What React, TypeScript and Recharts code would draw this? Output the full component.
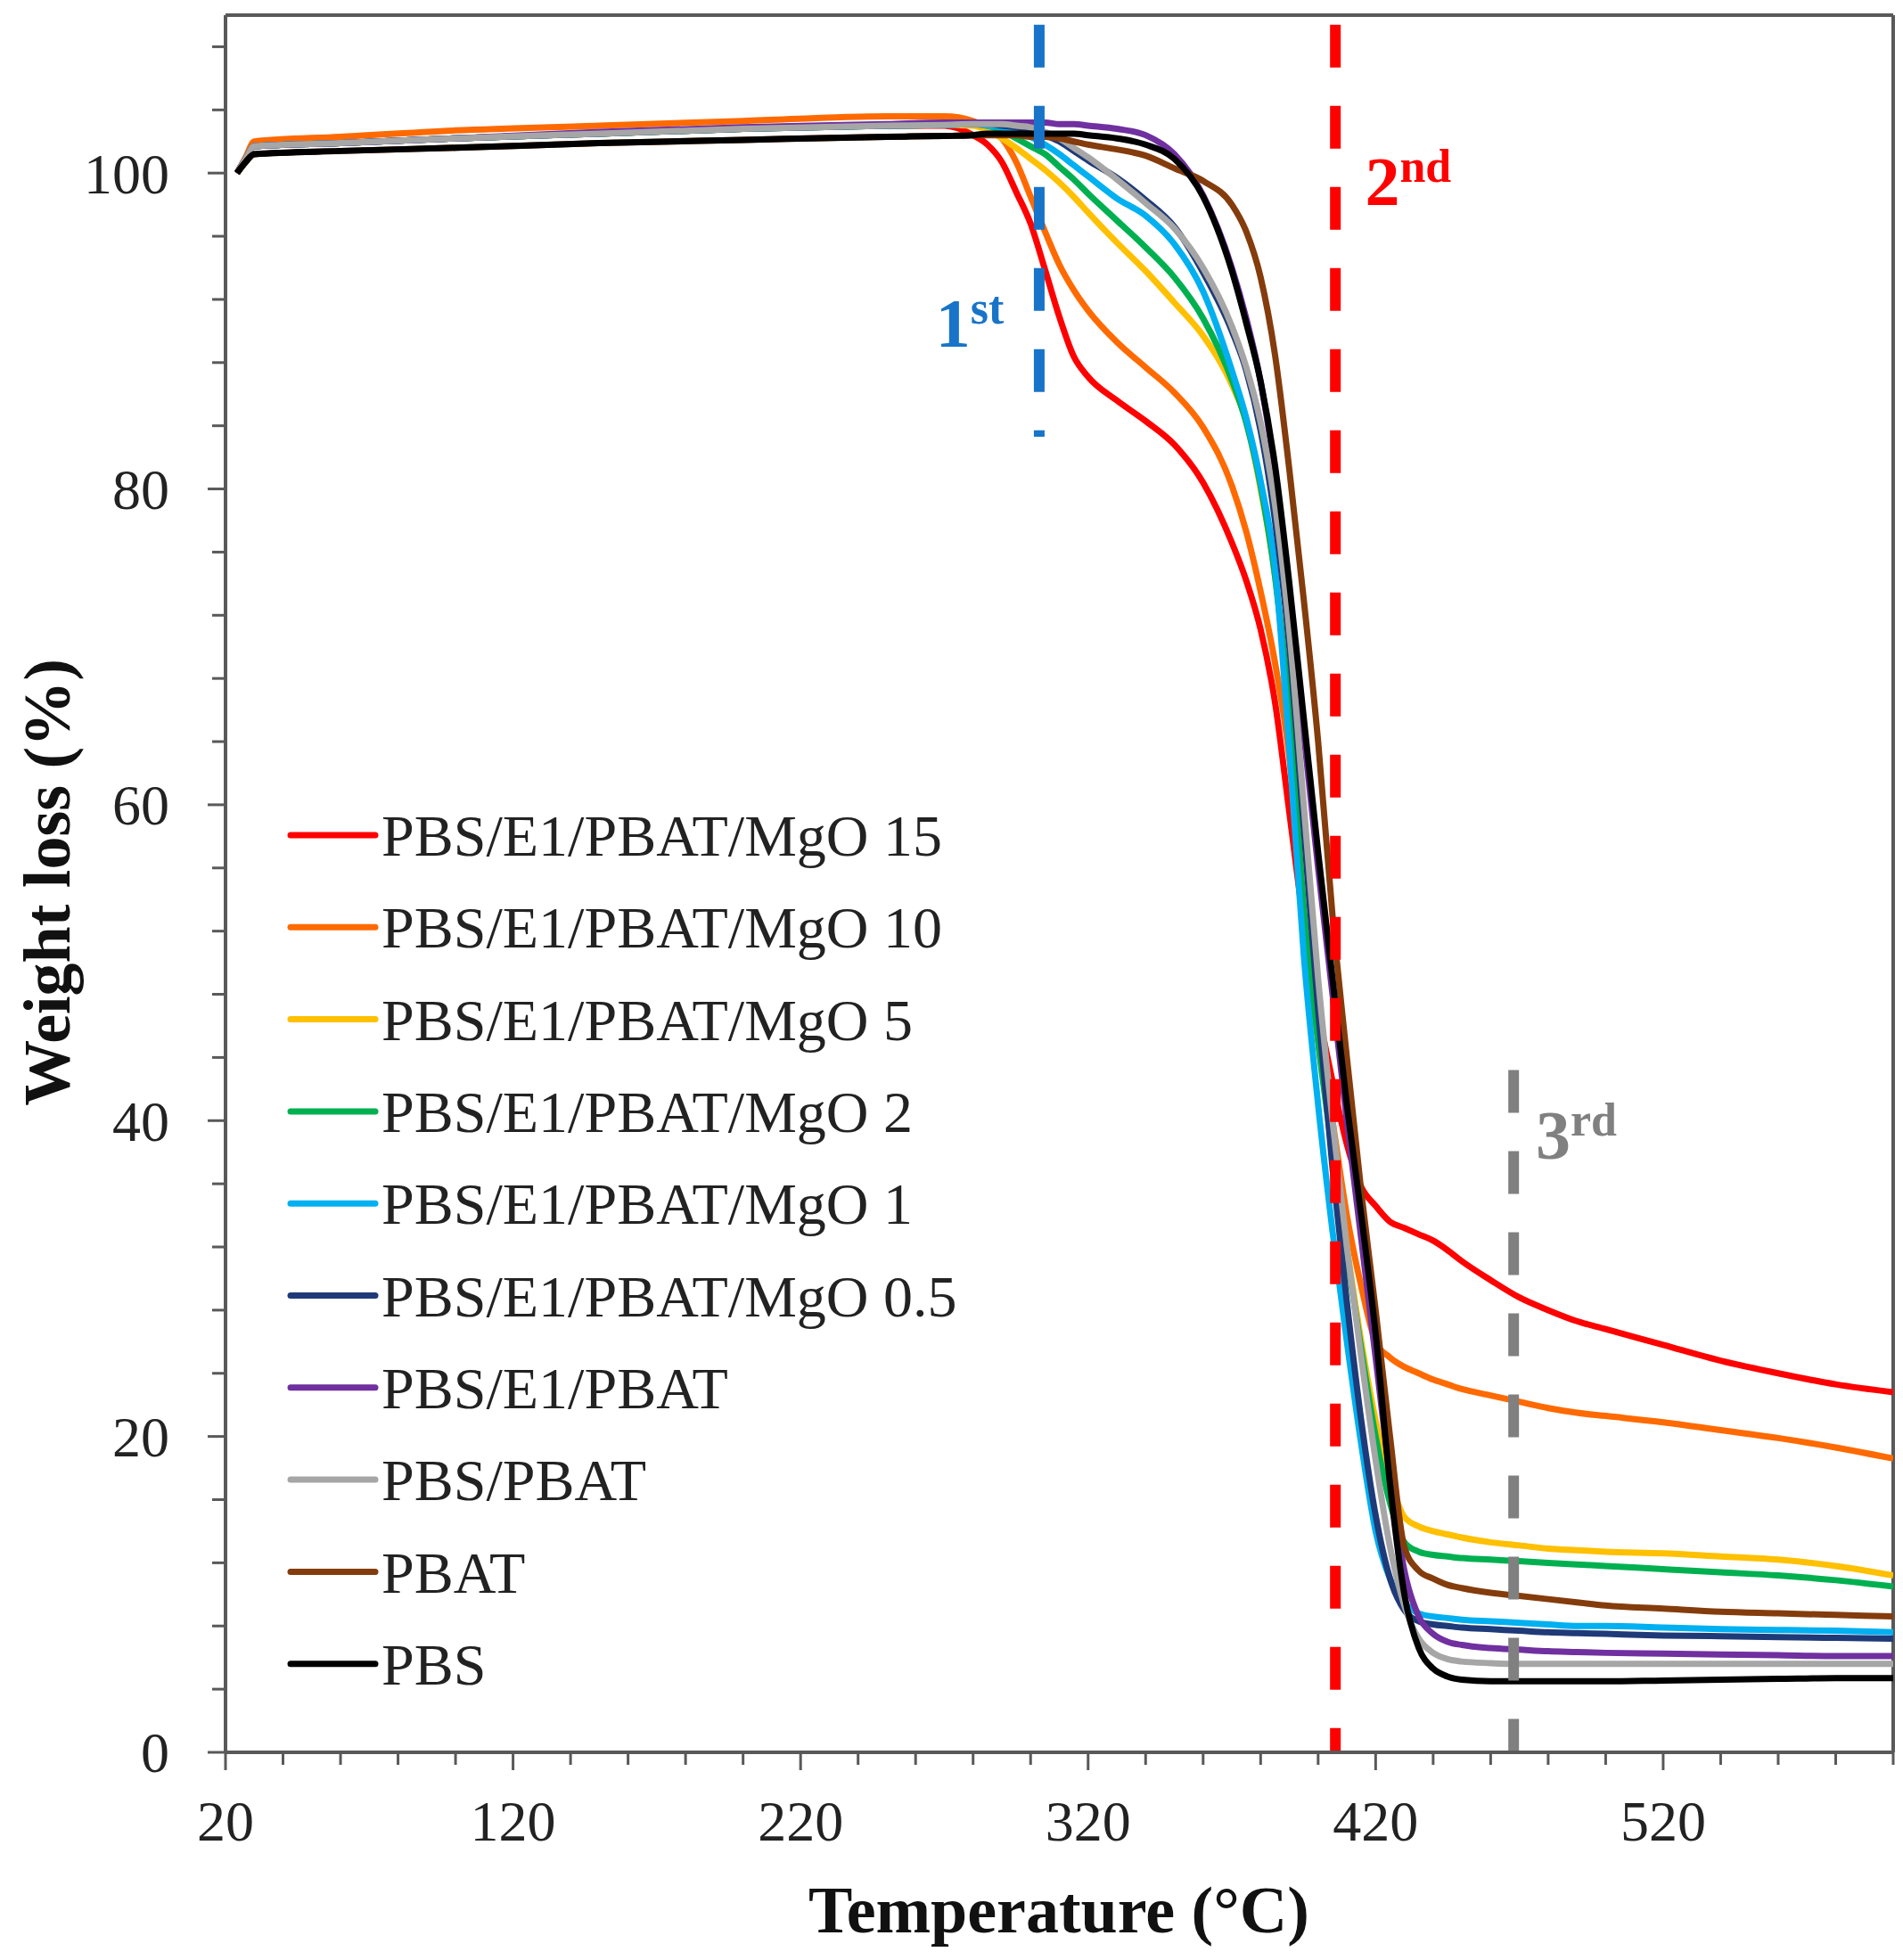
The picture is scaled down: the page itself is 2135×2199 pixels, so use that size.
import React from 'react';
import { LineChart, Line, XAxis, YAxis, ReferenceLine, ReferenceDot, Customized } from 'recharts';

const temperatures = [24, 27, 30, 60, 100, 150, 200, 250, 270,
  280, 285, 290, 295, 300, 305, 310, 315, 320,
  330, 340, 350, 360, 370, 375, 380, 385, 390, 395,
  400, 405, 410, 415, 420, 425, 430, 435, 440, 445, 450,
  460, 470, 480, 490, 500, 520, 540, 560, 580, 600];

const mgo15 = [100, 100.9, 101.7, 101.9, 102.2, 102.5, 102.8, 103.0, 103.0,
  102.4, 101.8, 100.7, 98.8, 96.8, 93.9, 90.9, 88.4, 87.1,
  85.6, 84.3, 82.8, 80.4, 76.6, 74.2, 71.1, 66.5, 59.5, 52.5,
  47, 42.5, 38.5, 35.8, 34.6, 33.6, 33.2, 32.8, 32.4, 31.8, 31.1,
  29.9, 28.8, 28, 27.3, 26.8, 25.8, 24.8, 24, 23.3, 22.8];

const mgo10 = [100, 101.0, 102.0, 102.3, 102.7, 103.0, 103.3, 103.6, 103.6,
  103.3, 102.9, 102.2, 100.7, 98.5, 96.3, 94.2, 92.6, 91.3,
  89.3, 87.7, 86.1, 83.9, 80.2, 77.3, 73.5, 69, 63, 53,
  46, 40, 34, 29.5, 26, 25, 24.4, 24, 23.6, 23.3, 23,
  22.6, 22.2, 21.8, 21.5, 21.3, 20.9, 20.4, 19.9, 19.3, 18.6];

const mgo5 = [100, 100.9, 101.7, 101.9, 102.2, 102.5, 102.8, 103.0, 103.05,
  103, 102.7, 102.2, 101.6, 100.9, 100.2, 99.4, 98.5, 97.5,
  95.6, 93.8, 91.8, 89.7, 86.6, 84.3, 80, 74.5, 65.5, 53,
  45, 38.5, 32, 26, 21, 17.3, 14.9, 14.3, 14, 13.8, 13.6,
  13.3, 13.1, 12.9, 12.8, 12.7, 12.6, 12.4, 12.2, 11.8, 11.2];

const mgo2 = [100, 100.9, 101.7, 101.9, 102.2, 102.5, 102.8, 103.0, 103.05,
  103.1, 103, 102.7, 102.2, 101.7, 101.2, 100.4, 99.6, 98.7,
  97, 95.3, 93.4, 90.8, 86.9, 84.2, 80.2, 74.5, 66, 53.5,
  45, 38, 31.5, 25.5, 20, 15.8, 13.3, 12.7, 12.5, 12.4, 12.3,
  12.2, 12.1, 12, 11.9, 11.8, 11.6, 11.4, 11.2, 10.9, 10.5];

const mgo1 = [100, 100.9, 101.7, 101.9, 102.2, 102.5, 102.8, 103.0, 103.05,
  103.1, 103, 102.9, 102.6, 102.3, 101.8, 101.2, 100.5, 99.8,
  98.4, 97.3, 95.5, 92.5, 87.5, 84.5, 80.5, 75, 63.5, 50.5,
  41, 33, 26, 19.5, 14, 11, 9.5, 8.8, 8.6, 8.5, 8.4,
  8.3, 8.2, 8.1, 8.0, 8.0, 7.9, 7.8, 7.75, 7.7, 7.6];

const mgo05 = [100, 100.9, 101.7, 101.9, 102.2, 102.5, 102.8, 103.0, 103.05,
  103.1, 103.1, 103, 102.9, 102.7, 102.4, 102, 101.4, 100.8,
  99.7, 98.3, 96.6, 93.7, 90, 87.5, 83.7, 78, 70, 58.5,
  47, 37, 28.5, 21, 15, 11, 9.0, 8.3, 8.1, 8.0, 7.9,
  7.8, 7.7, 7.6, 7.55, 7.5, 7.4, 7.35, 7.3, 7.25, 7.2];

const e1pbat = [100, 100.9, 101.7, 101.9, 102.2, 102.6, 102.9, 103.1, 103.2,
  103.2, 103.2, 103.2, 103.2, 103.2, 103.2, 103.1, 103.1, 103.0,
  102.8, 102.4, 101.2, 98.6, 94, 90.8, 86.8, 81, 73, 64.5,
  56, 48, 40, 32.5, 25, 17.5, 11.5, 8.6, 7.5, 7, 6.8,
  6.6, 6.5, 6.4, 6.35, 6.3, 6.25, 6.2, 6.15, 6.1, 6.1];

const pbsPbat = [100, 100.9, 101.7, 101.9, 102.2, 102.5, 102.8, 103.0, 103.05,
  103.1, 103.1, 103.1, 103, 102.9, 102.6, 102.2, 101.6, 101,
  99.6, 98.1, 96.5, 94, 90.3, 87.7, 84.2, 79, 71, 60,
  49, 40, 32, 25, 18.5, 13, 9.3, 7.2, 6.3, 5.9, 5.75,
  5.65, 5.6, 5.6, 5.6, 5.6, 5.6, 5.6, 5.6, 5.6, 5.6];

const pbat = [100, 100.7, 101.2, 101.4, 101.6, 101.9, 102.1, 102.3, 102.35,
  102.4, 102.4, 102.4, 102.4, 102.3, 102.3, 102.2, 102.0, 101.8,
  101.5, 101.1, 100.3, 99.5, 98, 96.3, 93.4, 88.5, 81.2, 73,
  64, 53, 44, 35.5, 28, 20, 13, 11.5, 11, 10.6, 10.4,
  10.1, 9.9, 9.7, 9.5, 9.3, 9.1, 8.9, 8.8, 8.7, 8.6];

const pbs = [100, 100.7, 101.2, 101.4, 101.6, 101.9, 102.1, 102.3, 102.35,
  102.4, 102.5, 102.5, 102.5, 102.5, 102.5, 102.5, 102.5, 102.4,
  102.2, 101.8, 100.9, 98.5, 93.8, 90.5, 86.8, 81.5, 74, 65.5,
  57, 49, 41, 34, 26.5, 17, 10, 6.6, 5.3, 4.8, 4.6,
  4.5, 4.5, 4.5, 4.5, 4.5, 4.55, 4.6, 4.65, 4.7, 4.7];

const seriesNames = [
  'PBS/E1/PBAT/MgO 15', 'PBS/E1/PBAT/MgO 10', 'PBS/E1/PBAT/MgO 5', 'PBS/E1/PBAT/MgO 2',
  'PBS/E1/PBAT/MgO 1', 'PBS/E1/PBAT/MgO 0.5', 'PBS/E1/PBAT', 'PBS/PBAT', 'PBAT', 'PBS',
];
const seriesValues = [mgo15, mgo10, mgo5, mgo2, mgo1, mgo05, e1pbat, pbsPbat, pbat, pbs];
const seriesColors = ['#FF0000', '#FF6A00', '#FFC000', '#00B050', '#00B0F0', '#1F3A78', '#7030A0', '#A6A6A6', '#843C0C', '#000000'];

const xTicks = [20, 40, 60, 80, 100, 120, 140, 160, 180, 200, 220, 240, 260, 280, 300, 320, 340, 360, 380, 400, 420, 440, 460, 480, 500, 520, 540, 560, 580, 600];
const xLabels = [20, 120, 220, 320, 420, 520];
const yTicks = [0, 4, 8, 12, 16, 20, 24, 28, 32, 36, 40, 44, 48, 52, 56, 60, 64, 68, 72, 76, 80, 84, 88, 92, 96, 100, 104, 108];
const yLabels = [0, 20, 40, 60, 80, 100];

const stageLines = [
  { name: '1', sup: 'st', x: 303, yTop: 109.4, yBottom: 83.3, color: '#1874C8', labelX: 267, labelY: 89 },
  { name: '2', sup: 'nd', x: 406, yTop: 109.4, yBottom: 0, color: '#FF0000', labelX: 416.3, labelY: 98 },
  { name: '3', sup: 'rd', x: 468, yTop: 43.2, yBottom: 0, color: '#808080', labelX: 475.7, labelY: 37.6 },
];

const rows = temperatures.map((t, i) => {
  const r: any = { T: t };
  seriesNames.forEach((n, k) => { r[n] = seriesValues[k][i]; });
  return r;
});

const FONT = '"Liberation Serif", "Times New Roman", serif';
const AXIS = '#595959';
const W = 2119;
const H = 2183;

const XTick = (props: any) => {
  const { x, y, payload } = props;
  const v = payload.value;
  const major = xLabels.includes(v);
  return (
    <g>
      <line x1={x} x2={x} y1={y} y2={y + (major ? 20 : 14)} stroke={AXIS} strokeWidth={3} />
      {major && (
        <text x={x} y={y + 99} textAnchor="middle" fontSize={64} fontFamily={FONT} fill="#222">{v}</text>
      )}
    </g>
  );
};

const YTick = (props: any) => {
  const { x, y, payload } = props;
  const v = payload.value;
  const major = yLabels.includes(v);
  return (
    <g>
      <line x1={x - (major ? 20 : 15)} x2={x} y1={y} y2={y} stroke={AXIS} strokeWidth={3} />
      {major && (
        <text x={x - 63} y={y} dy="0.35em" textAnchor="end" fontSize={64} fontFamily={FONT} fill="#222">{v}</text>
      )}
    </g>
  );
};

const Overlay = () => (
  <g>
    <text x={1180} y={2160} textAnchor="middle" fontSize={74} fontWeight="bold" fontFamily={FONT} fill="#111">Temperature (°C)</text>
    <text transform="translate(70,982) rotate(-90)" textAnchor="middle" fontSize={74} fontWeight="bold" fontFamily={FONT} fill="#111">Weight loss (%)</text>
    {seriesNames.map((n, i) => {
      const y = 929 + i * 103.3;
      return (
        <g key={n}>
          <line x1={318} x2={413} y1={y} y2={y} stroke={seriesColors[i]} strokeWidth={7} strokeLinecap="round" />
          <text x={420} y={y} dy="0.35em" fontSize={66} fontFamily={FONT} fill="#222">{n}</text>
        </g>
      );
    })}
  </g>
);

const makeLabel = (s: any) => (p: any) => (
  <text x={p.cx} y={p.cy} fontSize={78} fontWeight="bold" fontFamily={FONT} fill={s.color}>
    {s.name}
    <tspan fontSize={52} dy={-26}>{s.sup}</tspan>
  </text>
);

export default function App() {
  return (
    <LineChart width={W} height={H} data={rows} margin={{ top: 9, right: 3, bottom: 0, left: 0 }}>
      <XAxis
        dataKey="T"
        type="number"
        domain={[20, 600]}
        ticks={xTicks}
        interval={0}
        height={225}
        tickSize={0}
        tickMargin={0}
        tick={<XTick />}
        axisLine={{ stroke: AXIS, strokeWidth: 4 }}
        allowDataOverflow
      />
      <YAxis
        type="number"
        domain={[0, 110]}
        ticks={yTicks}
        interval={0}
        width={245}
        tickSize={0}
        tickMargin={0}
        tick={<YTick />}
        axisLine={{ stroke: AXIS, strokeWidth: 4 }}
        allowDataOverflow
      />
      <ReferenceLine y={110} stroke={AXIS} strokeWidth={4} ifOverflow="visible" />
      <ReferenceLine x={600} stroke={AXIS} strokeWidth={4} ifOverflow="visible" />
      {seriesNames.map((n, i) => (
        <Line
          key={n}
          dataKey={n}
          type="monotone"
          stroke={seriesColors[i]}
          strokeWidth={7}
          dot={false}
          activeDot={false}
          isAnimationActive={false}
        />
      ))}
      {stageLines.map((s) => (
        <ReferenceLine
          key={s.name}
          segment={[{ x: s.x, y: s.yTop }, { x: s.x, y: s.yBottom }]}
          stroke={s.color}
          strokeWidth={12}
          strokeDasharray="48 43"
          ifOverflow="visible"
        />
      ))}
      {stageLines.map((s) => (
        <ReferenceDot key={'l' + s.name} x={s.labelX} y={s.labelY} r={1} shape={makeLabel(s)} ifOverflow="visible" />
      ))}
      <Customized component={Overlay} />
    </LineChart>
  );
}
